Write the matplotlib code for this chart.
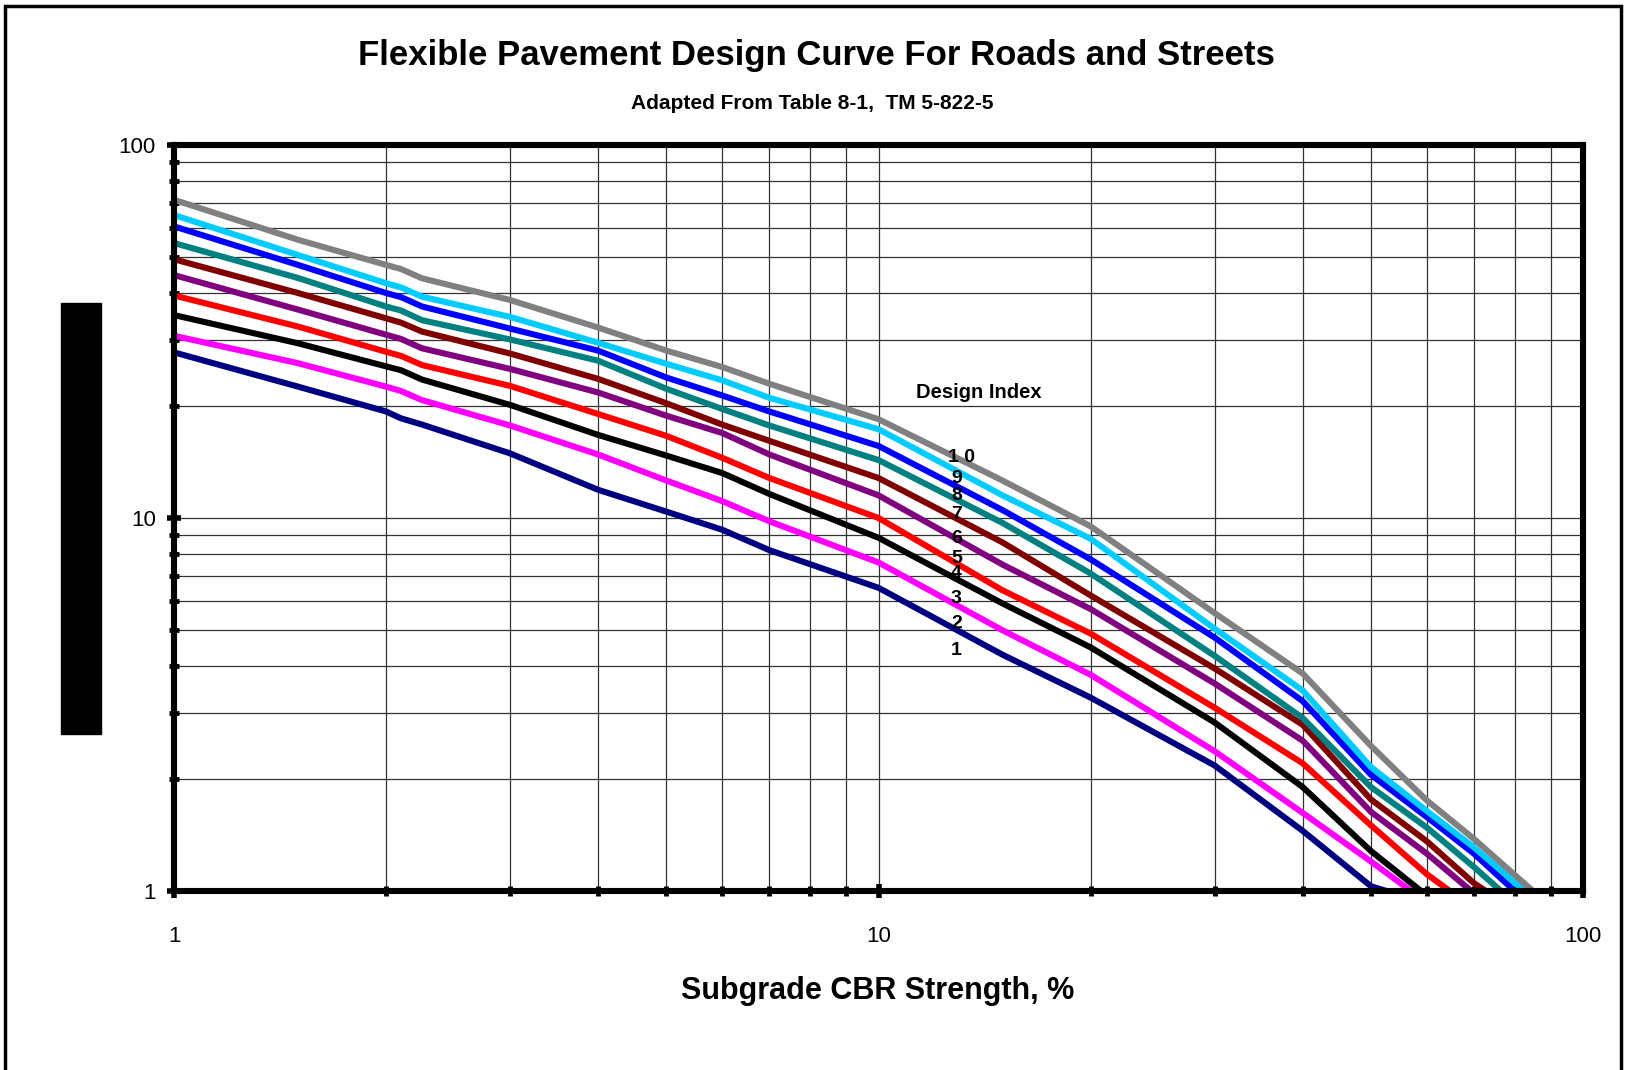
import matplotlib
matplotlib.use("Agg")
import matplotlib.pyplot as plt
from matplotlib.patches import Rectangle
from matplotlib.ticker import LogLocator, FuncFormatter, NullFormatter

plt.rcParams['font.family'] = ['Liberation Sans', 'DejaVu Sans']

# subgrade CBR (%) where thickness was read
cbr = [1, 1.5, 2, 2.1, 2.25, 3, 4, 5, 6, 7, 10, 15, 20, 30, 40, 50, 60, 70]

# thickness (in.) per design index, None = curve already below 1
t1 = [27.8, 22.5, 19.3, 18.5, 17.8, 14.9, 11.9, 10.4, 9.3, 8.2, 6.5, 4.3, 3.3, 2.17, 1.45, 1.03, None, None]
t2 = [30.8, 26.0, 22.5, 21.9, 20.7, 17.7, 14.8, 12.6, 11.1, 9.8, 7.6, 5.0, 3.8, 2.37, 1.62, 1.2, None, None]
t3 = [35.0, 29.4, 25.5, 24.9, 23.5, 20.1, 16.7, 14.7, 13.2, 11.6, 8.85, 5.9, 4.5, 2.83, 1.9, 1.28, None, None]
t4 = [39.5, 32.6, 27.9, 27.2, 25.7, 22.6, 19.0, 16.6, 14.5, 12.8, 10.0, 6.4, 4.9, 3.1, 2.2, 1.5, 1.11, None]
t5 = [44.8, 36.2, 31.0, 30.2, 28.5, 25.1, 21.7, 18.8, 16.9, 14.8, 11.5, 7.5, 5.7, 3.6, 2.53, 1.63, 1.26, None]
t6 = [49.4, 40.1, 34.3, 33.4, 31.6, 27.6, 23.6, 20.3, 17.8, 16.1, 12.8, 8.6, 6.2, 3.95, 2.79, 1.76, 1.36, 1.05]
t7 = [54.6, 44.0, 36.9, 36.0, 33.9, 30.1, 26.4, 22.2, 19.6, 17.7, 14.3, 9.7, 7.1, 4.27, 2.91, 1.9, 1.48, 1.16]
t8 = [60.5, 47.7, 40.1, 39.1, 36.9, 32.2, 28.1, 23.8, 21.3, 19.3, 15.6, 10.5, 7.75, 4.78, 3.23, 2.05, 1.58, 1.26]
t9 = [64.9, 50.7, 42.6, 41.5, 39.2, 34.6, 29.5, 25.9, 23.4, 21.0, 17.3, 11.5, 8.8, 5.05, 3.45, 2.15, 1.64, 1.31]
t10 = [71.3, 55.7, 47.7, 46.5, 43.9, 38.4, 32.4, 28.1, 25.4, 22.9, 18.4, 12.6, 9.5, 5.56, 3.83, 2.45, 1.75, 1.38]

# CBR where each curve reaches 1 in.
end_cbr = [52.6, 57.0, 58.9, 64.7, 69.4, 72.8, 76.5, 80.0, 82.6, 84.9]

series = [t1, t2, t3, t4, t5, t6, t7, t8, t9, t10]
colors = ['#000080', '#FF00FF', '#000000', '#FF0000', '#800080',
          '#800000', '#008080', '#0000FF', '#00CCFF', '#808080']

# design index labels
lab_idx = ['1', '2', '3', '4', '5', '6', '7', '8', '9', '1 0']
lab_x = [12.9, 12.9, 12.9, 12.9, 12.9, 12.9, 12.9, 12.9, 12.9, 13.1]
lab_y = [4.4, 5.2, 6.1, 7.1, 7.8, 8.8, 10.2, 11.5, 12.8, 14.5]

fig = plt.figure(figsize=(16.25, 10.7), dpi=100)
ax = fig.add_axes([174 / 1625, 1 - 891 / 1070, (1583 - 174) / 1625, (891 - 145) / 1070])

for vals, end, c in zip(series, end_cbr, colors):
    xs = [x for x, v in zip(cbr, vals) if v is not None] + [end]
    ys = [v for v in vals if v is not None] + [1.0]
    ax.plot(xs, ys, color=c, lw=4.4, solid_joinstyle='round', zorder=3)

ax.set_xscale('log')
ax.set_yscale('log')
ax.set_xlim(1, 100)
ax.set_ylim(1, 100)

ax.xaxis.set_major_locator(LogLocator(base=10))
ax.yaxis.set_major_locator(LogLocator(base=10))
ax.xaxis.set_minor_locator(LogLocator(base=10, subs=range(2, 10)))
ax.yaxis.set_minor_locator(LogLocator(base=10, subs=range(2, 10)))
fmt = FuncFormatter(lambda v, p: '%d' % round(v))
ax.xaxis.set_major_formatter(fmt)
ax.yaxis.set_major_formatter(fmt)
ax.xaxis.set_minor_formatter(NullFormatter())
ax.yaxis.set_minor_formatter(NullFormatter())

ax.grid(True, which='both', color='#333333', lw=0.9, zorder=1)
for s in ax.spines.values():
    s.set_linewidth(4.4)
    s.set_zorder(4)

ax.tick_params(which='major', direction='inout', length=10, width=4, labelsize=16)
ax.tick_params(which='minor', direction='inout', length=7, width=3.5)
ax.tick_params(axis='x', which='major', pad=20)
ax.tick_params(axis='y', which='major', pad=8)

for t, x, y in zip(lab_idx, lab_x, lab_y):
    ax.text(x, y, t, ha='center', va='center', fontsize=14, fontweight='bold', zorder=5)
ax.text(13.9, 21.7, 'Design Index', ha='center', va='center', fontsize=14.5, fontweight='bold', zorder=5)

fig.text(0.5025, 0.948, 'Flexible Pavement Design Curve For Roads and Streets',
         ha='center', va='center', fontsize=25, fontweight='bold')
fig.text(0.5, 0.903, 'Adapted From Table 8-1,  TM 5-822-5',
         ha='center', va='center', fontsize=15, fontweight='bold')
fig.text(878 / 1625, 0.074, 'Subgrade CBR Strength, %',
         ha='center', va='center', fontsize=22, fontweight='bold')

# blacked-out axis title box on the left
fig.patches.append(Rectangle((61 / 1625, 1 - 734 / 1070), 40 / 1625, 431 / 1070,
                             transform=fig.transFigure, color='black'))
# outer frame
fig.patches.append(Rectangle((5 / 1625, -0.1), 1616 / 1625, 1.1 - 6 / 1070,
                             transform=fig.transFigure, fill=False, ec='black', lw=2.5))

fig.savefig('out.png', dpi=100)
